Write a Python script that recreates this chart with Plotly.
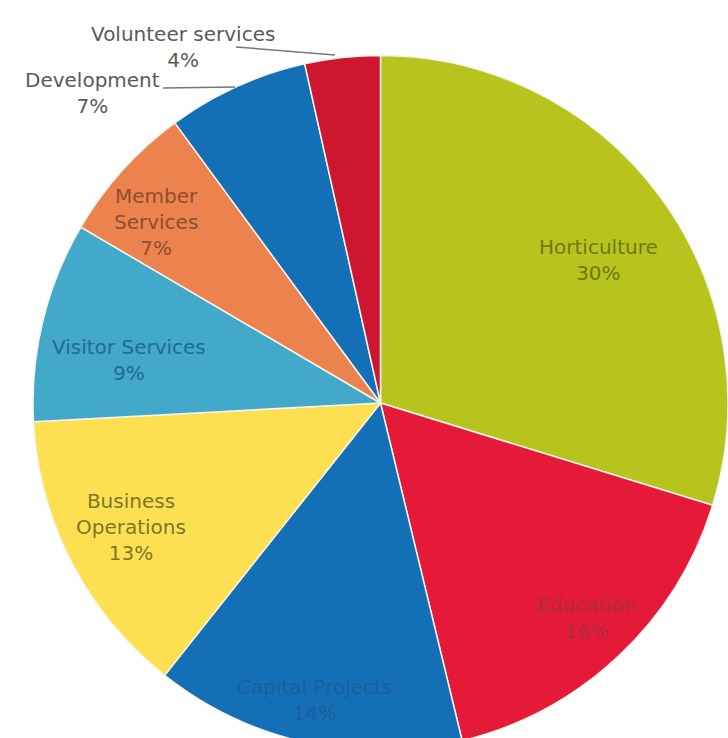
import plotly.graph_objects as go

# Data
categories = ["Horticulture", "Education", "Capital Projects", "Business Operations",
              "Visitor Services", "Member Services", "Development", "Volunteer services"]
# slice sizes as drawn (percent of the circle)
values = [29.75, 16.47, 14.44, 13.47, 9.31, 6.47, 6.58, 3.50]
# percentages printed on the labels
pct_labels = ["30%", "16%", "14%", "13%", "9%", "7%", "7%", "4%"]
label_text = ["Horticulture", "Education", "Capital Projects", "Business<br>Operations",
              "Visitor Services", "Member<br>Services", "Development", "Volunteer services"]

colors = ["#b8c41e", "#e41a38", "#1470b6", "#fde052", "#42a9ca", "#ec834f", "#1470b6", "#cf1630"]
text_colors = ["#6f7812", "#b02a40", "#1c5e9c", "#7e7628", "#1f6c94", "#8e4e30", "#5a5a5a", "#5a5a5a"]

W, H = 728, 760
# label anchor positions in pixels (centre of text block)
label_px = [(598, 260), (587, 618), (314, 700), (131, 527), (129, 360), (156, 222), (92, 93), (183, 47)]

def px(x, y):
    return x / W, 1 - y / H

fig = go.Figure(go.Pie(
    labels=categories,
    values=values,
    sort=False,
    direction="clockwise",
    rotation=0,
    marker=dict(colors=colors, line=dict(color="#f6f4ea", width=1.5)),
    textinfo="none",
    hoverinfo="label+percent",
    showlegend=False,
    domain=dict(x=[33 / W, 1.0], y=[1 - 751 / H, 1 - 55 / H]),
))

annotations = []
for txt, pct, col, (lx, ly) in zip(label_text, pct_labels, text_colors, label_px):
    ax, ay = px(lx, ly)
    annotations.append(dict(
        x=ax, y=ay, xref="paper", yref="paper",
        text=f"{txt}<br>{pct}", showarrow=False,
        font=dict(family="DejaVu Sans", size=20, color=col),
        align="center", xanchor="center", yanchor="middle",
    ))

shapes = []
for (x0, y0, x1, y1) in [(236, 47, 335, 55), (163, 88, 235, 87)]:
    a0, b0 = px(x0, y0)
    a1, b1 = px(x1, y1)
    shapes.append(dict(type="line", xref="paper", yref="paper", x0=a0, y0=b0, x1=a1, y1=b1,
                       line=dict(color="#777777", width=1.5)))

fig.update_layout(
    width=W, height=H,
    margin=dict(l=0, r=0, t=0, b=0),
    paper_bgcolor="white",
    plot_bgcolor="white",
    annotations=annotations,
    shapes=shapes,
)

fig.write_html("out.html",
               config={"displayModeBar": False},
               post_script="document.body.style.margin='0';document.body.style.overflow='hidden';"
                           "document.documentElement.style.overflow='hidden';")
